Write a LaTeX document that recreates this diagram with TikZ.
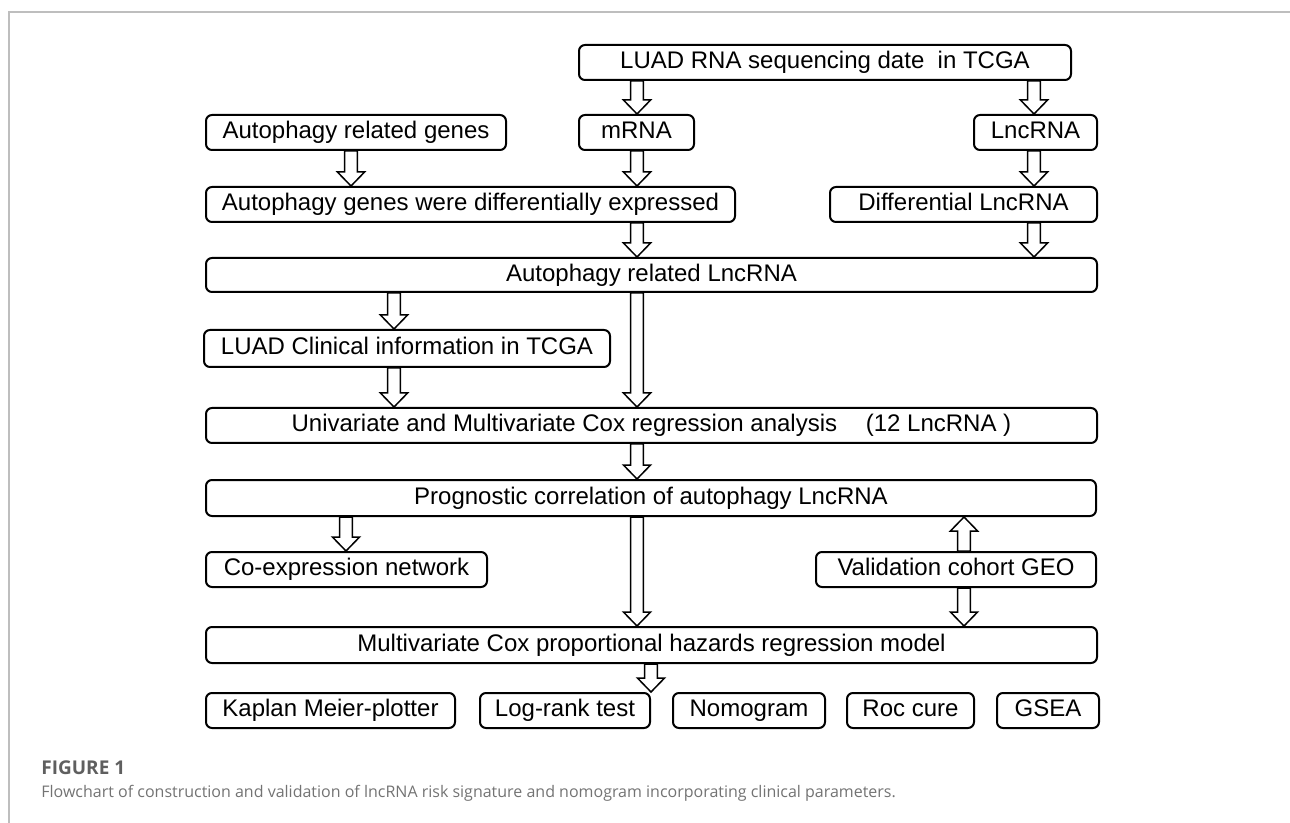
\documentclass[tikz,border=0pt]{standalone}
\usepackage{fontspec}
\setmainfont{Liberation Sans}
\newfontfamily\capfont{Open Sans}
\usetikzlibrary{calc}

\definecolor{framegray}{RGB}{190,190,190}
\definecolor{labelgray}{RGB}{95,95,95}
\definecolor{capgray}{RGB}{115,115,115}

\begin{document}
\begin{tikzpicture}[x=0.5pt,y=-0.5pt,
  stage/.style={draw,line width=1pt,rounded corners=3pt,inner sep=0pt,minimum height=17.5pt,text height=8.7pt,text depth=2.5pt,font=\fontsize{12}{14}\selectfont},
  hollow/.style={draw,fill=white,line width=0.75pt,line join=miter,to path={
    ($(\tikztotarget)!7pt!(\tikztostart)$) coordinate (hb)
    ($(\tikztostart)!3.2pt!90:(\tikztotarget)$) -- ($(hb)!3.2pt!90:(\tikztotarget)$)
    -- ($(hb)!6.8pt!90:(\tikztotarget)$) -- (\tikztotarget) -- ($(hb)!6.8pt!-90:(\tikztotarget)$)
    -- ($(hb)!3.2pt!-90:(\tikztotarget)$) -- ($(\tikztostart)!3.2pt!-90:(\tikztotarget)$) -- cycle}}]

\useasboundingbox (0,0) rectangle (1290,823);

% frame of the figure panel
\draw [framegray,line width=1pt] (1290,12) -- (9,12) -- (9,823);

% arrow columns
\coordinate (cmain) at (637,0);
\coordinate (clnc) at (1034,0);
\coordinate (cgene) at (351,0);
\coordinate (cclin) at (394,0);
\coordinate (ccoexp) at (346,0);
\coordinate (cgeo) at (964,0);
\coordinate (cout) at (651,0);

\node [stage,minimum width=246pt] (seqdata) at (825,62.5) {LUAD RNA sequencing date\ \ in TCGA};

\node [stage,minimum width=150pt] (autogenes) at (356,132.5) {Autophagy related genes};
\node [stage,minimum width=57.5pt] (mrna) at (636.5,132.5) {mRNA};
\node [stage,minimum width=61.5pt] (lncrna) at (1035.5,132.5) {LncRNA};

\node [stage,minimum width=264.5pt] (diffgenes) at (470.5,204.5) {Autophagy genes were differentially expressed};
\node [stage,minimum width=133.5pt] (difflnc) at (963.5,204.5) {Differential LncRNA};

\node [stage,minimum width=445.5pt,minimum height=17pt] (autolnc) at (651.5,275) {Autophagy related LncRNA};

\node [stage,minimum width=203pt,minimum height=18.5pt] (clinical) at (407,348.5) {LUAD Clinical information in TCGA};

\node [stage,minimum width=445.5pt] (coxuni) at (651.5,425.5) {Univariate and Multivariate Cox regression analysis\hspace{1.2em}(12 LncRNA )};

\node [stage,minimum width=445pt,minimum height=18pt] (prognostic) at (651,498) {Prognostic correlation of autophagy LncRNA};

\node [stage,minimum width=140.5pt] (coexp) at (346.5,569.5) {Co-expression network};
\node [stage,minimum width=140pt] (geo) at (956,569.5) {Validation cohort GEO};

\node [stage,minimum width=445.5pt,minimum height=18pt] (coxmodel) at (651.5,645) {Multivariate Cox proportional hazards regression model};

\node [stage,minimum width=124.5pt] (kmplot) at (330.5,710.5) {Kaplan Meier-plotter};
\node [stage,minimum width=85pt] (logrank) at (565,710.5) {Log-rank test};
\node [stage,minimum width=76pt] (nomo) at (749,710.5) {Nomogram};
\node [stage,minimum width=63.5pt] (roc) at (910.5,710.5) {Roc cure};
\node [stage,minimum width=51pt] (gsea) at (1048,710.5) {GSEA};

% hollow arrows
\draw [hollow] (seqdata.south -| cmain) to (mrna.north -| cmain);
\draw [hollow] (seqdata.south -| clnc) to (lncrna.north -| clnc);
\draw [hollow] (autogenes.south -| cgene) to (diffgenes.north -| cgene);
\draw [hollow] (mrna.south -| cmain) to (diffgenes.north -| cmain);
\draw [hollow] (lncrna.south -| clnc) to (difflnc.north -| clnc);
\draw [hollow] (diffgenes.south -| cmain) to (autolnc.north -| cmain);
\draw [hollow] (difflnc.south -| clnc) to (autolnc.north -| clnc);
\draw [hollow] (autolnc.south -| cclin) to (clinical.north -| cclin);
\draw [hollow] (clinical.south -| cclin) to (coxuni.north -| cclin);
\draw [hollow] (autolnc.south -| cmain) to (coxuni.north -| cmain);
\draw [hollow] (coxuni.south -| cmain) to (prognostic.north -| cmain);
\draw [hollow] (prognostic.south -| ccoexp) to (coexp.north -| ccoexp);
\draw [hollow] (prognostic.south -| cmain) to (coxmodel.north -| cmain);
\draw [hollow] (geo.north -| cgeo) to (prognostic.south -| cgeo);
\draw [hollow] (geo.south -| cgeo) to (coxmodel.north -| cgeo);
\draw [hollow] (coxmodel.south -| cout) to (logrank.north -| cout);

% caption
\node [anchor=base west,inner sep=0pt,text=labelgray,font=\capfont\bfseries\fontsize{9.5}{11}\selectfont] (figlabel) at (41,774) {FIGURE 1};
\node [anchor=base west,inner sep=0pt,text=capgray,font=\capfont\fontsize{8}{10}\selectfont] (figcaption) at (41,797) {Flowchart of construction and validation of lncRNA risk signature and nomogram incorporating clinical parameters.};

\end{tikzpicture}
\end{document}
